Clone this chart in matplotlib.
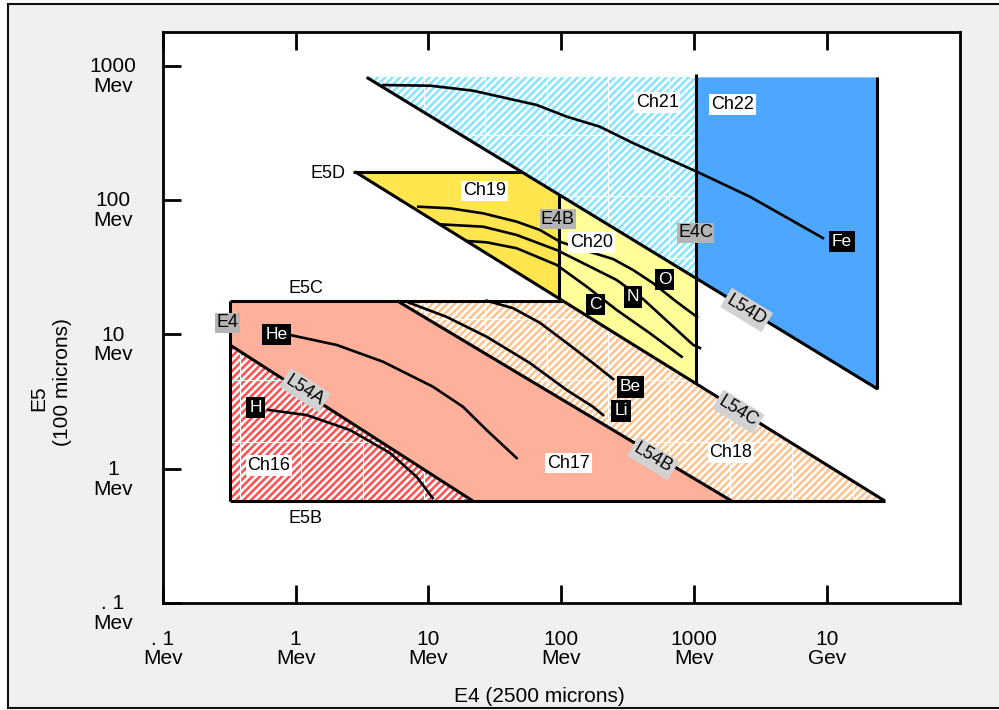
import numpy as np
import matplotlib
matplotlib.use("Agg")
import matplotlib.pyplot as plt
from matplotlib.patches import Polygon, Rectangle
from matplotlib.collections import LineCollection
from matplotlib.transforms import IdentityTransform
from matplotlib.ticker import NullLocator

plt.rcParams['font.family'] = ['Liberation Sans', 'DejaVu Sans']

# ---- detector thresholds (MeV) ----
E4_MIN = 0.32
E4B = 96.0
E4C = 1040.0
E4_MAX = 23700.0
E5B = 0.575
E5C = 17.8
E5D = 162.7
E5_TOP = 820.0
E4C_LINE_TOP = 867.0

# ---- L54 boundary lines: (E4, E5) end points in MeV ----
L54A = [(0.321, 8.34), (21.6, 0.575)]
L54B = [(5.80, 17.8), (1910.0, 0.575)]
L54C = [(2.80, 162.7), (27200.0, 0.575)]
L54D = [(3.43, 820.0), (24000.0, 3.92)]

# ---- ion tracks (E4, E5) in MeV ----
H_E4 = [0.62, 1.21, 2.57, 5.13, 8.15, 10.75]
H_E5 = [2.74, 2.51, 1.94, 1.31, 0.87, 0.605]
HE_E4 = [0.91, 2.04, 4.55, 10.8, 18.2, 27.4, 46.1]
HE_E5 = [9.90, 8.34, 6.26, 4.08, 2.89, 1.94, 1.20]
LI_E4 = [6.85, 13.7, 27.4, 58.0, 110.0, 173.0, 206.0]
LI_E5 = [17.5, 13.5, 9.61, 6.12, 3.85, 2.89, 2.51]
BE_E4 = [27.4, 43.2, 69.0, 110.0, 173.0, 245.0]
BE_E5 = [17.8, 15.7, 12.2, 8.63, 6.12, 4.65]
C_E4 = [19.4, 27.4, 46.1, 92.2, 155.0, 261.0, 464.0, 804.0]
C_E5 = [49.6, 48.5, 43.8, 32.9, 22.7, 15.2, 10.2, 6.82]
N_E4 = [12.2, 25.8, 46.1, 92.2, 155.0, 261.0, 413.0, 983.0, 1104.0]
N_E5 = [66.0, 63.4, 55.0, 42.5, 32.9, 25.4, 18.3, 8.34, 7.92]
O_E4 = [8.38, 14.5, 25.8, 46.1, 69.0, 97.6, 156.0, 245.0, 346.0, 489.0, 741.0, 1048.0]
O_E5 = [89.3, 86.9, 79.7, 69.1, 59.9, 49.0, 41.8, 36.4, 30.2, 24.1, 17.4, 13.5]
FE_E4 = [4.55, 10.3, 21.6, 65.2, 110.0, 195.0, 346.0, 1043.0, 2625.0, 9300.0]
FE_E5 = [719.0, 711.0, 653.0, 511.0, 418.0, 352.0, 266.0, 163.0, 106.0, 52.2]

# ---- labels ----
CH_NAMES = ['Ch16', 'Ch17', 'Ch18', 'Ch19', 'Ch20', 'Ch21', 'Ch22']
CH_X = [0.631, 113.0, 1889.0, 26.5, 169.0, 526.0, 1938.0]
CH_Y = [1.056, 1.10, 1.316, 116.9, 48.1, 531.0, 513.0]

ION_NAMES = ['H', 'He', 'Li', 'Be', 'C', 'N', 'O', 'Fe']
ION_X = [0.50, 0.72, 281.0, 330.0, 181.0, 346.0, 597.0, 12900.0]
ION_Y = [2.87, 10.0, 2.69, 4.06, 16.8, 19.0, 25.6, 49.3]

DET_NAMES = ['E4', 'E4B', 'E4C']
DET_X = [0.307, 94.3, 1024.0]
DET_Y = [12.2, 72.1, 56.9]

L54_NAMES = ['L54A', 'L54B', 'L54C', 'L54D']
L54_LX = [1.177, 491.0, 2143.0, 2480.0]
L54_LY = [3.85, 1.195, 2.66, 15.2]
L54_ROT = [-32.7, -31.0, -31.8, -31.6]

E5_NAMES = ['E5D', 'E5C', 'E5B']
E5_LX = [1.744, 1.193, 1.193]
E5_LY = [162.7, 22.9, 0.439]

XTICKS = [0.1, 1, 10, 100, 1000, 10000]
XTICK_LABELS = ['. 1\nMev', '1\nMev', '10\nMev', '100\nMev', '1000\nMev', '10\nGev']
YTICKS = [0.1, 1, 10, 100, 1000]
YTICK_LABELS = ['. 1\nMev', '1\nMev', '10\nMev', '100\nMev', '1000\nMev']


def line_y(line, x):
    (x1, y1), (x2, y2) = line
    t = (np.log10(x) - np.log10(x1)) / (np.log10(x2) - np.log10(x1))
    return 10 ** (np.log10(y1) + t * (np.log10(y2) - np.log10(y1)))


def line_x(line, y):
    (x1, y1), (x2, y2) = line
    t = (np.log10(y) - np.log10(y1)) / (np.log10(y2) - np.log10(y1))
    return 10 ** (np.log10(x1) + t * (np.log10(x2) - np.log10(x1)))


W_PX, H_PX = 999, 710
fig = plt.figure(figsize=(W_PX / 100, H_PX / 100), dpi=100, facecolor='white')

# grey panel with dark frame
fig.add_artist(Rectangle((7.5 / W_PX, 1.7 / H_PX), 1.1, (706.5 - 1.7) / H_PX,
                         transform=fig.transFigure, facecolor='#f0f0f0',
                         edgecolor='#111111', linewidth=1.5, zorder=-5))

ax = fig.add_axes([162.7 / W_PX, (H_PX - 603) / H_PX, (960 - 162.7) / W_PX, (603 - 32) / H_PX])
ax.set_facecolor('white')
ax.set_xscale('log')
ax.set_yscale('log')
ax.set_xlim(0.1, 1e5)
ax.set_ylim(0.1, 10 ** 3.2517)

# ---- channel regions ----
yA0 = line_y(L54A, E4_MIN)
regions = {
    'Ch16': ([(E4_MIN, E5B), (E4_MIN, yA0), (line_x(L54A, E5B), E5B)], '#ff5050', True),
    'Ch17': ([(E4_MIN, yA0), (E4_MIN, E5C), (line_x(L54B, E5C), E5C),
              (line_x(L54B, E5B), E5B), (line_x(L54A, E5B), E5B)], '#ffb09a', False),
    'Ch18': ([(line_x(L54B, E5C), E5C), (line_x(L54C, E5C), E5C),
              (line_x(L54C, E5B), E5B), (line_x(L54B, E5B), E5B)], '#ffc48e', True),
    'Ch19': ([(line_x(L54C, E5D), E5D), (line_x(L54D, E5D), E5D),
              (E4B, line_y(L54D, E4B)), (E4B, line_y(L54C, E4B))], '#ffe64f', False),
    'Ch20': ([(E4B, line_y(L54D, E4B)), (E4C, line_y(L54D, E4C)),
              (E4C, line_y(L54C, E4C)), (E4B, line_y(L54C, E4B))], '#ffff99', False),
    'Ch21': ([(line_x(L54D, E5_TOP), E5_TOP), (E4C, E5_TOP), (E4C, line_y(L54D, E4C))],
             '#86e6ff', True),
    'Ch22': ([(E4C, E5_TOP), (E4_MAX, E5_TOP), (E4_MAX, line_y(L54D, E4_MAX)),
              (E4C, line_y(L54D, E4C))], '#4da6ff', False),
}

fig.canvas.draw()
for name, (verts, color, hatched) in regions.items():
    poly = Polygon(verts, closed=True, facecolor=color, edgecolor='none', zorder=1)
    ax.add_patch(poly)
    if hatched:
        # white diagonal stripes
        period = 7.4
        segs = [[(c, 0), (c + H_PX, H_PX)] for c in np.arange(-H_PX, W_PX + 10, period)]
        lc = LineCollection(segs, colors='white', linewidths=1.9,
                            transform=IdentityTransform(), zorder=1.1)
        ax.add_collection(lc, autolim=False)
        lc.set_clip_path(poly)
        # pattern tile seams
        tile = 61.3
        seams = [[(x, 0), (x, H_PX)] for x in np.arange(240.0, W_PX, tile)]
        seams += [[(0, H_PX - y), (W_PX, H_PX - y)] for y in np.arange(135.0, H_PX, tile)]
        sc = LineCollection(seams, colors='white', linewidths=0.8,
                            transform=IdentityTransform(), zorder=1.2)
        ax.add_collection(sc, autolim=False)
        sc.set_clip_path(poly)

# ---- boundary lines ----
blw = 2.2
bkw = dict(color='black', lw=blw, zorder=2, solid_capstyle='butt')
for ln in (L54A, L54B, L54C, L54D):
    ax.plot([ln[0][0], ln[1][0]], [ln[0][1], ln[1][1]], **bkw)
ax.plot([E4_MIN, line_x(L54C, E5B)], [E5B, E5B], **bkw)
ax.plot([E4_MIN, line_x(L54C, E5C)], [E5C, E5C], **bkw)
ax.plot([line_x(L54C, E5D) * 0.97, line_x(L54D, E5D)], [E5D, E5D], **bkw)
ax.plot([E4_MIN, E4_MIN], [E5B, E5C], **bkw)
ax.plot([E4B, E4B], [line_y(L54C, E4B), line_y(L54D, E4B)], **bkw)
ax.plot([E4C, E4C], [line_y(L54C, E4C), E4C_LINE_TOP], **bkw)
ax.plot([E4_MAX, E4_MAX], [line_y(L54D, E4_MAX), E5_TOP], **bkw)

# ---- ion tracks ----
tkw = dict(color='black', lw=1.9, zorder=2.5)
for xs, ys in ((H_E4, H_E5), (HE_E4, HE_E5), (LI_E4, LI_E5), (BE_E4, BE_E5),
               (C_E4, C_E5), (N_E4, N_E5), (O_E4, O_E5), (FE_E4, FE_E5)):
    ax.plot(xs, ys, **tkw)

# ---- labels ----
for s, x, y in zip(CH_NAMES, CH_X, CH_Y):
    ax.text(x, y, s, fontsize=13, ha='center', va='center', zorder=4,
            bbox=dict(boxstyle='square,pad=0.1', fc='white', ec='none'))
for s, x, y in zip(ION_NAMES, ION_X, ION_Y):
    ax.text(x, y, s, fontsize=12.5, color='white', ha='center', va='center', zorder=4,
            bbox=dict(boxstyle='square,pad=0.18', fc='black', ec='none'))
for s, x, y in zip(DET_NAMES, DET_X, DET_Y):
    ax.text(x, y, s, fontsize=13, ha='center', va='center', zorder=4,
            bbox=dict(boxstyle='square,pad=0.08', fc='#b4b4b4', ec='none'))
for s, x, y, r in zip(L54_NAMES, L54_LX, L54_LY, L54_ROT):
    ax.text(x, y, s, fontsize=13, ha='center', va='center', rotation=r,
            rotation_mode='anchor', zorder=4,
            bbox=dict(boxstyle='square,pad=0.15', fc='#d2d2d2', ec='none'))
for s, x, y in zip(E5_NAMES, E5_LX, E5_LY):
    ax.text(x, y, s, fontsize=13, ha='center', va='center_baseline', zorder=4)

# ---- axes styling ----
for sp in ax.spines.values():
    sp.set_linewidth(2.0)
ax.xaxis.set_minor_locator(NullLocator())
ax.yaxis.set_minor_locator(NullLocator())
ax.set_xticks(XTICKS)
ax.set_xticklabels(XTICK_LABELS)
ax.set_yticks(YTICKS)
ax.set_yticklabels([])
ax.tick_params(axis='both', direction='in', length=13, width=2.0, labelsize=15,
               top=True, right=False, color='black')
ax.tick_params(axis='x', pad=19.5)
for lab in ax.get_xticklabels():
    lab.set_linespacing(1.0)

# y tick labels: first line centred on the tick, unit underneath
for yv, s in zip(YTICKS, YTICK_LABELS):
    ax.annotate(s, xy=(0, yv), xycoords=('axes fraction', 'data'),
                xytext=(-35.8, -7.6), textcoords='offset points',
                fontsize=15, ha='center', va='center', linespacing=1.05,
                annotation_clip=False)

fig.text(539 / W_PX, 1 - 695 / H_PX, 'E4 (2500 microns)', fontsize=15,
         ha='center', va='center_baseline')
fig.text(39 / W_PX, 1 - 398 / H_PX, 'E5', fontsize=15, rotation=90,
         ha='center', va='center')
fig.text(62 / W_PX, 1 - 382 / H_PX, '(100 microns)', fontsize=15, rotation=90,
         ha='center', va='center')

fig.savefig('out.png', dpi=100, facecolor=fig.get_facecolor())
